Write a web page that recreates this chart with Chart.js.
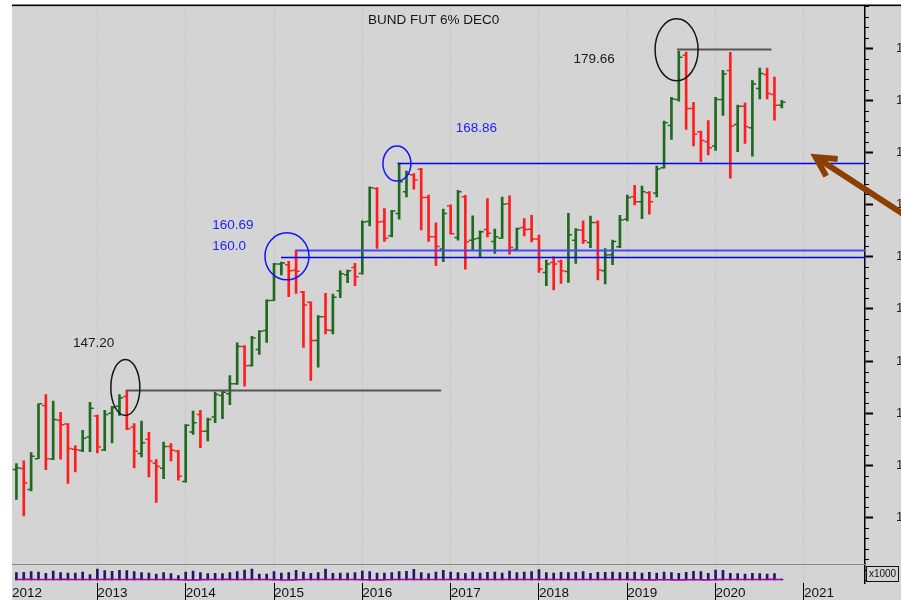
<!DOCTYPE html>
<html lang="en">
<head>
<meta charset="UTF-8">
<title>BUND FUT 6% DEC0</title>
<script src="https://cdn.jsdelivr.net/npm/chart.js"></script>
<style>
  html, body { margin: 0; padding: 0; background: #fff; overflow: hidden; }
  canvas { display: block; }
</style>
</head>
<body>
<canvas id="bund" width="930" height="600"></canvas>
<script>
// monthly bars Feb 2012 .. Oct 2020
const opens = [
  139.60, 139.70, 137.70, 140.65, 145.75, 140.62, 144.32, 143.97, 141.55, 141.42, 142.72,
  144.73, 141.48, 144.99, 145.66, 146.61, 143.68, 141.13, 142.50, 140.20, 139.73, 141.82, 141.39,
  138.47, 143.20, 144.89, 143.27, 144.63, 146.70, 146.87, 147.82, 151.39, 149.58, 151.10, 152.92,
  155.80, 159.30, 159.23, 158.70, 156.62, 155.63, 151.97, 154.26, 152.92, 156.75, 158.27, 158.97,
  158.40, 163.37, 166.53, 163.37, 162.00, 164.14, 166.24, 167.84, 168.38, 165.67, 161.91, 160.73,
  164.87, 161.84, 165.76, 161.59, 161.78, 162.60, 161.46, 161.78, 165.09, 160.70, 162.80, 162.64,
  161.69, 158.50, 159.46, 159.55, 158.59, 161.59, 162.55, 161.36, 163.27, 158.66, 160.19, 160.95,
  163.60, 165.76, 165.28, 166.14, 166.11, 168.54, 172.59, 175.07, 179.31, 174.21, 171.97, 171.02,
  170.61, 175.07, 177.84, 172.68, 174.43, 172.36, 176.12, 177.46, 175.55, 174.53
];
const highs = [
  140.18, 140.43, 141.23, 145.91, 146.80, 146.16, 145.08, 144.00, 141.90, 143.36, 146.04,
  144.83, 145.27, 145.66, 146.80, 147.20, 144.00, 144.25, 143.17, 140.56, 142.24, 142.09, 141.45,
  143.91, 145.21, 145.27, 144.54, 147.02, 147.18, 148.62, 151.74, 151.49, 152.38, 152.92, 155.86,
  159.36, 159.49, 159.55, 160.64, 156.68, 155.69, 154.36, 156.49, 156.43, 158.66, 158.72, 159.36,
  163.44, 166.69, 166.62, 164.61, 164.46, 168.98, 168.22, 167.96, 168.48, 165.92, 163.25, 164.56,
  164.97, 166.37, 165.89, 163.92, 162.48, 165.57, 162.64, 165.73, 165.83, 162.74, 163.66, 163.98,
  162.07, 159.68, 160.00, 159.68, 164.17, 162.70, 163.44, 163.89, 163.44, 160.79, 161.59, 163.98,
  165.92, 166.85, 166.78, 166.24, 168.70, 173.00, 175.29, 179.69, 179.62, 174.81, 172.04, 173.06,
  175.29, 177.87, 179.59, 174.53, 174.75, 176.89, 178.09, 178.09, 177.23, 174.98
];
const lows = [
  136.74, 135.17, 137.56, 140.65, 139.60, 140.56, 140.61, 138.27, 139.37, 141.32, 141.32,
  141.19, 141.42, 142.15, 144.80, 143.43, 139.76, 140.81, 138.90, 136.45, 138.74, 140.43, 138.58,
  138.40, 142.98, 141.71, 142.34, 144.10, 144.48, 145.82, 147.76, 147.60, 149.51, 150.63, 151.80,
  155.80, 158.25, 156.17, 156.49, 151.32, 148.14, 149.41, 152.61, 152.61, 156.08, 157.51, 157.22,
  158.34, 162.96, 160.79, 161.46, 161.91, 163.60, 165.73, 166.47, 162.58, 161.46, 159.14, 159.52,
  162.17, 161.59, 158.82, 160.64, 160.00, 161.90, 160.31, 161.75, 160.25, 160.57, 162.00, 161.43,
  158.50, 157.22, 156.81, 157.44, 157.54, 159.36, 161.27, 160.88, 157.77, 157.39, 159.23, 160.88,
  163.44, 164.97, 163.66, 164.08, 165.73, 168.48, 171.25, 174.91, 172.20, 170.61, 169.11, 169.75,
  170.20, 173.54, 167.52, 170.06, 170.87, 169.65, 175.13, 175.13, 173.09, 174.27
];
const closes = [
  139.75, 138.32, 140.88, 145.90, 140.65, 144.41, 143.90, 141.61, 141.50, 142.60, 145.49,
  141.77, 144.89, 145.56, 146.48, 143.52, 141.35, 142.18, 140.43, 139.90, 141.82, 141.45, 138.96,
  143.84, 144.10, 143.27, 144.41, 146.80, 147.02, 147.82, 151.39, 149.55, 152.22, 152.86, 155.80,
  159.30, 159.40, 158.66, 158.60, 155.38, 151.97, 154.26, 152.99, 156.11, 158.37, 158.66, 158.08,
  163.34, 166.62, 163.34, 161.78, 164.39, 167.19, 167.90, 167.36, 165.67, 161.91, 160.98, 164.14,
  162.20, 166.24, 161.43, 161.69, 162.39, 162.25, 161.91, 165.03, 160.88, 162.70, 162.60, 161.69,
  158.82, 159.30, 159.30, 158.66, 162.10, 162.58, 161.53, 163.27, 158.72, 160.16, 161.46, 163.53,
  165.67, 165.28, 166.24, 165.28, 168.41, 172.84, 175.13, 179.12, 174.21, 171.73, 171.15, 170.45,
  175.07, 177.52, 172.52, 174.43, 172.45, 176.56, 177.56, 175.65, 174.53, 174.81
];
// volume (x1000 contracts)
const volume = [
  11000, 11500, 12500, 12000, 10000, 13500, 11000, 10500, 10500, 12000, 8000,
  16500, 14000, 13000, 14500, 14000, 12500, 11000, 10500, 9000, 11000, 9500, 6500,
  12000, 13500, 11000, 9500, 10000, 9500, 11000, 12500, 15000, 16500, 9000, 9000,
  12500, 10500, 11000, 14500, 12000, 10000, 11000, 16500, 10000, 10500, 10500, 11000,
  13500, 12500, 10500, 10500, 11000, 12500, 13000, 16000, 11000, 9500, 12000, 14500,
  12000, 11000, 10000, 12000, 10500, 11500, 12000, 10500, 13500, 11000, 12000, 12500,
  15500, 11000, 10500, 11500, 11000, 11500, 12500, 10000, 11500, 11500, 12000, 11000,
  11500, 12000, 10500, 11500, 10500, 12000, 11000, 10000, 11500, 13000, 12500, 10000,
  15000, 14500, 10000, 9500, 9000, 10000, 9500, 9000, 9500, 1500
];
// open interest trace under the volume bars
const openInt = [
  800, 900, 900, 800, 700, 800, 900, 900, 800, 800, 700,
  800, 900, 900, 800, 800, 900, 900, 800, 700, 800, 800, 600,
  200, 100, 400, 700, 800, 900, 900, 800, 800, 900, 800, 700,
  500, 100, 0, 300, 700, 800, 800, 900, 800, 800, 800, 700,
  500, 100, 0, 400, 700, 800, 900, 900, 800, 800, 800, 800,
  800, 900, 800, 800, 900, 800, 800, 900, 800, 800, 900, 800,
  800, 900, 800, 800, 900, 800, 800, 700, 800, 900, 800, 700,
  700, 600, 300, 100, 300, 600, 300, 100, 300, 600, 300, 100,
  500, 800, 800, 800, 800, 800, 800, 900, 900, 800
];
const yearLabels = ['2012', '2013', '2014', '2015', '2016', '2017', '2018', '2019', '2020', '2021'];
const priceTicks = [135, 140, 145, 150, 155, 160, 165, 170, 175, 180];

// drawn levels (price, from month, to month) and their captions
const levelPrices = [147.2, 179.9, 168.95, 160.6, 159.95];
const levelFrom = [15.9, 90.75, 52.8, 39.0, 36.95];
const levelTo = [58.7, 103.6, null, null, null];
const captions = ['147.20', '179.66', '168.86', '160.69', '160.0'];
const captionMonth = [8.7, 76.7, 60.7, 27.6, 27.6];
const captionPrice = [151.36, 178.57, 171.94, 162.62, 160.61];
const ringMonth = [15.8, 90.7, 37.76, 52.7];
const ringPrice = [147.47, 179.83, 160.04, 168.93];
const arrowMonth = 109.6, arrowPrice = 169.55;

// months since Jan 2012
const months = [];
for (let i = 0; i < opens.length; i++) {
  const m = 1 + i;
  months.push(`${2012 + Math.floor(m / 12)}-${String(m % 12 + 1).padStart(2, '0')}`);
}
const monthIdx = months.map(s => (parseInt(s.slice(0, 4)) - 2012) * 12 + parseInt(s.slice(5)) - 1);

const GREEN = '#1f6a1f', RED = '#ff1e1e', NAVY = '#1a1a66';
const barColors = opens.map((o, i) => closes[i] >= o ? GREEN : RED);

const X_MIN = 0.4, X_MAX = 116.3;
const Y_MIN = 128.73, Y_MAX = 184.08;
const FONT = '"Liberation Sans", Arial, sans-serif';

const levelStyle = [
  { color: '#555', width: 2 },
  { color: '#555', width: 2 },
  { color: '#0000ff', width: 1.5 },
  { color: '#4646ff', width: 2.2 },
  { color: '#0000ff', width: 1.4 }
];
const captionColor = ['#1a1a1a', '#1a1a1a', '#1e1eff', '#1e1eff', '#1e1eff'];
const ringStyle = [
  { rx: 14.5, ry: 28, color: '#151515' },
  { rx: 21.5, ry: 31, color: '#151515' },
  { rx: 22, ry: 23.5, color: '#1414ff' },
  { rx: 14, ry: 17.5, color: '#1414ff' }
];

const decor = {
  id: 'decor',
  beforeDraw(chart) {
    const { ctx, chartArea: a, width, height } = chart;
    ctx.save();
    ctx.fillStyle = '#d4d4d4';
    ctx.fillRect(a.left, a.top, width - a.left, height - a.top);
    ctx.restore();
  },
  beforeDatasetsDraw(chart) {
    // top of the volume pane
    const { ctx, chartArea: a } = chart;
    ctx.save();
    ctx.strokeStyle = '#8a8a8a';
    ctx.lineWidth = 1;
    ctx.beginPath();
    ctx.moveTo(a.left, a.bottom - 18.5);
    ctx.lineTo(a.right, a.bottom - 18.5);
    ctx.stroke();
    ctx.restore();
  },
  afterDatasetsDraw(chart) {
    const { ctx, chartArea: a, scales: { x, y } } = chart;
    ctx.save();
    levelPrices.forEach((p, i) => {
      const py = Math.round(y.getPixelForValue(p)) + 0.5;
      const x0 = x.getPixelForValue(levelFrom[i]);
      const x1 = levelTo[i] === null ? a.right : x.getPixelForValue(levelTo[i]);
      ctx.strokeStyle = levelStyle[i].color;
      ctx.lineWidth = levelStyle[i].width;
      ctx.beginPath();
      ctx.moveTo(x0, py);
      ctx.lineTo(x1, py);
      ctx.stroke();
    });
    ringMonth.forEach((m, i) => {
      ctx.strokeStyle = ringStyle[i].color;
      ctx.lineWidth = 1.5;
      ctx.beginPath();
      ctx.ellipse(x.getPixelForValue(m), y.getPixelForValue(ringPrice[i]), ringStyle[i].rx, ringStyle[i].ry, 0, 0, Math.PI * 2);
      ctx.stroke();
    });
    ctx.font = '13.5px ' + FONT;
    ctx.textBaseline = 'alphabetic';
    ctx.textAlign = 'left';
    captions.forEach((t, i) => {
      ctx.fillStyle = captionColor[i];
      ctx.fillText(t, x.getPixelForValue(captionMonth[i]), y.getPixelForValue(captionPrice[i]));
    });
    // brown arrow pointing at the 168.86 line
    const tx = x.getPixelForValue(arrowMonth), ty = y.getPixelForValue(arrowPrice);
    ctx.strokeStyle = '#8b4000';
    ctx.lineWidth = 6;
    ctx.lineCap = 'butt';
    ctx.lineJoin = 'miter';
    ctx.beginPath();
    ctx.moveTo(tx + 3, ty + 2);
    ctx.lineTo(tx + 92, ty + 60);
    ctx.stroke();
    ctx.beginPath();
    ctx.moveTo(tx + 22, ty + 1.8);
    ctx.lineTo(tx, ty);
    ctx.lineTo(tx + 10.5, ty + 19);
    ctx.stroke();
    ctx.restore();
  },
  afterDraw(chart) {
    const { ctx, chartArea: a, width, scales: { y } } = chart;
    ctx.save();
    // minor price ticks
    ctx.strokeStyle = '#000';
    ctx.lineWidth = 1;
    for (let v = Math.ceil(Y_MIN); v <= Math.floor(Y_MAX); v++) {
      if (priceTicks.includes(v)) continue;
      const py = Math.round(y.getPixelForValue(v)) + 0.5;
      ctx.beginPath();
      ctx.moveTo(a.right, py);
      ctx.lineTo(a.right + 4, py);
      ctx.stroke();
    }
    // top frame
    ctx.fillStyle = '#000';
    ctx.fillRect(a.left, a.top - 1, width - a.left, 1.6);
    // title
    ctx.fillStyle = '#151515';
    ctx.font = '13.5px ' + FONT;
    ctx.textBaseline = 'alphabetic';
    ctx.fillText('BUND FUT 6% DEC0', 368, 24);
    // volume unit box
    ctx.fillStyle = '#d4d4d4';
    ctx.fillRect(a.right + 1, a.bottom - 17, 33, 16);
    ctx.strokeStyle = '#111';
    ctx.strokeRect(a.right + 1.5, a.bottom - 16.5, 32, 15);
    ctx.fillStyle = '#111';
    ctx.font = '10px ' + FONT;
    ctx.textAlign = 'center';
    ctx.textBaseline = 'middle';
    ctx.fillText('x1000', a.right + 17.5, a.bottom - 8.5);
    ctx.restore();
  }
};

Chart.defaults.font.family = FONT;

new Chart(document.getElementById('bund'), {
  type: 'bar',
  data: {
    datasets: [
      {
        type: 'bar', label: 'Volume', yAxisID: 'yVol', order: 5,
        data: monthIdx.map((m, i) => ({ x: m, y: volume[i] })),
        backgroundColor: NAVY, barThickness: 2, grouped: false
      },
      {
        type: 'line', label: 'Open interest', yAxisID: 'yVol', order: 4,
        data: monthIdx.map((m, i) => ({ x: m, y: openInt[i] })),
        borderColor: '#a800a8', borderWidth: 1.6, pointRadius: 0, tension: 0.4
      },
      {
        type: 'bar', label: 'Range', yAxisID: 'y', order: 3,
        data: monthIdx.map((m, i) => ({ x: m, y: [lows[i], highs[i]] })),
        backgroundColor: barColors, barThickness: 2, grouped: false
      },
      {
        type: 'line', label: 'Open', yAxisID: 'y', order: 2, showLine: false,
        data: monthIdx.map((m, i) => ({ x: m - 0.28, y: opens[i] })),
        pointStyle: 'line', pointRadius: 1.6, pointBorderWidth: 1.5,
        pointBorderColor: barColors, pointBackgroundColor: barColors
      },
      {
        type: 'line', label: 'Close', yAxisID: 'y', order: 1, showLine: false,
        data: monthIdx.map((m, i) => ({ x: m + 0.28, y: closes[i] })),
        pointStyle: 'line', pointRadius: 1.6, pointBorderWidth: 1.5,
        pointBorderColor: barColors, pointBackgroundColor: barColors
      }
    ]
  },
  options: {
    responsive: false,
    devicePixelRatio: 1,
    animation: false,
    layout: { padding: { left: 12, top: 4, right: 0, bottom: 0 } },
    plugins: { legend: { display: false }, tooltip: { enabled: false } },
    scales: {
      x: {
        type: 'linear', min: X_MIN, max: X_MAX, offset: false,
        afterBuildTicks: s => { s.ticks = yearLabels.map((_, i) => ({ value: Math.max(i * 12, X_MIN) })); },
        afterFit: s => { s.height = 17; s.paddingLeft = 0; s.paddingRight = 0; },
        ticks: {
          autoSkip: false, maxRotation: 0, minRotation: 0, align: 'start', padding: -15,
          color: '#111', font: { size: 13.5 },
          callback: (v, i) => yearLabels[i]
        },
        grid: {
          offset: false, tickLength: 17, tickWidth: 1,
          color: c => (c.tick && c.tick.value < 1 ? 'rgba(0,0,0,0)' : '#b2b2b2'),
          tickColor: c => (c.tick && c.tick.value < 1 ? 'rgba(0,0,0,0)' : '#000')
        },
        border: { display: false, dash: [1, 2] }
      },
      y: {
        position: 'right', min: Y_MIN, max: Y_MAX,
        afterBuildTicks: s => { s.ticks = priceTicks.map(v => ({ value: v })); },
        afterFit: s => { s.width = 65; s.paddingTop = 0; s.paddingBottom = 0; },
        ticks: { padding: 23, color: '#222', font: { size: 13 }, callback: v => String(v) },
        grid: { drawOnChartArea: false, tickLength: 8, tickWidth: 2, tickColor: '#000' },
        border: { display: true, color: '#000', width: 1.5 }
      },
      yVol: {
        display: false, min: -4500, max: 864000
      }
    }
  },
  plugins: [decor]
});
</script>
</body>
</html>
